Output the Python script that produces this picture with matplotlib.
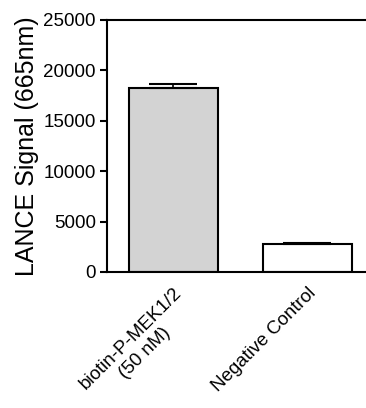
import numpy as np
import matplotlib
matplotlib.use("Agg")
import matplotlib.pyplot as plt

plt.rcParams['font.family'] = ['Liberation Sans', 'DejaVu Sans']

categories = ["biotin-P-MEK1/2\n(50 nM)", "Negative Control"]
values = [18250, 2780]
errors = [450, 140]
colors = ["#d3d3d3", "#ffffff"]
yticks = [0, 5000, 10000, 15000, 20000, 25000]

fig = plt.figure(figsize=(3.66, 4.08), dpi=100)
ax = fig.add_axes([107/366, 1 - 272/408, 1 - 107/366, (272 - 20)/408])

x = np.arange(len(categories))
ax.bar(x, values, width=0.664, color=colors, edgecolor="black", linewidth=1.5, zorder=2)
ax.errorbar(x, values, yerr=[[0, 0], errors], fmt="none", ecolor="black",
            elinewidth=1.2, capsize=17, capthick=1.5, zorder=3)

ax.set_xlim(-0.496, 1.437)
ax.set_ylim(0, 25000)
ax.set_yticks(yticks)
ax.set_yticklabels([str(v) for v in yticks], fontsize=13.5)
ax.set_xticks(x)
ax.set_xticklabels(categories, rotation=45, ha="right", rotation_mode="anchor",
                   fontsize=13.5, multialignment="center")
ax.tick_params(axis="x", length=0, pad=9)
ax.tick_params(axis="y", length=5, width=1.5, pad=3)
ax.set_ylabel("LANCE Signal (665nm)", fontsize=18, labelpad=3)

for s in ["left", "bottom", "top"]:
    ax.spines[s].set_linewidth(1.5)
ax.spines["right"].set_visible(False)

fig.savefig("out.png", dpi=100)
